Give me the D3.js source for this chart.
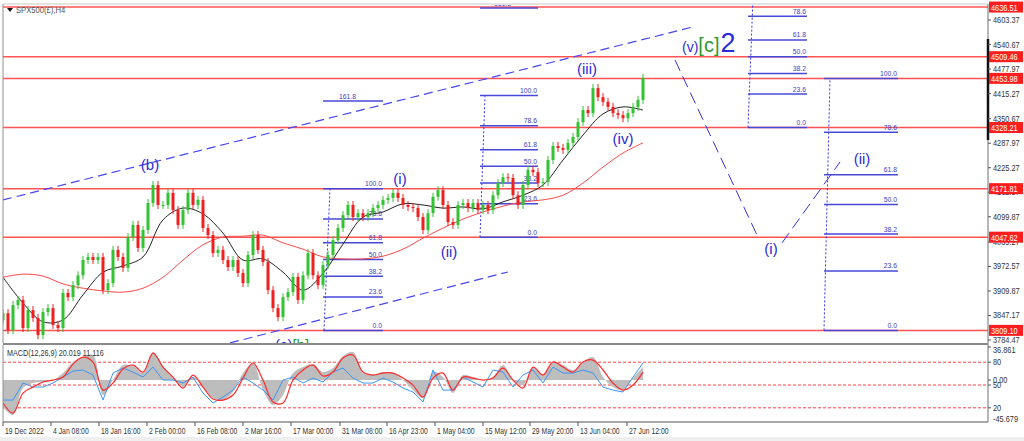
<!DOCTYPE html>
<html><head><meta charset="utf-8">
<script src="https://cdn.jsdelivr.net/npm/d3@7"></script>
<style>html,body{margin:0;padding:0;background:#fff;overflow:hidden}</style>
</head><body><svg id="c" width="1024" height="441"></svg>
<script>
// ---------------- DATA ----------------
const closes = [
3853,3810,3874,3887,3815,3861,3841,3797,3856,3866,
3823,3815,3905,3894,3925,3950,3989,3997,3989,3997,
3912,3930,4015,3997,3969,4048,4079,4020,4066,4135,
4181,4130,4130,4161,4117,4079,4117,4161,4130,4143,
4071,4053,4007,4015,3989,3971,3989,3956,3930,4002,
4053,4015,3984,3912,3866,3843,3894,3907,3946,3887,
3950,4007,3950,3925,3976,4002,4040,4071,4104,4130,
4099,4109,4099,4109,4122,4130,4143,4148,4161,4148,
4130,4125,4122,4099,4066,4109,4151,4168,4130,4086,
4079,4130,4135,4122,4135,4117,4130,4117,4155,4186,
4201,4199,4155,4130,4181,4220,4214,4186,4189,4245,
4281,4276,4271,4289,4304,4342,4373,4365,4429,4406,
4394,4381,4365,4360,4352,4365,4381,4399,4455];
const firstOpen = 3835;
const maStep = 4;
const maFast = [3945,3879,3831,3836,3900,3958,3974,3997,4092,4122,4107,4058,3989,3992,3958,3912,3955,4030,4099,4112,4133,4130,4122,4125,4120,4138,4155,4181,4245,4309,4363,4381,4373];
const maSlow = [3945,3953,3948,3928,3917,3910,3907,3917,3945,3989,4028,4048,4050,4053,4033,4017,3997,3992,3992,3999,4017,4045,4071,4094,4112,4127,4138,4143,4155,4186,4227,4263,4289];
const macdStep = 2;
const macdHist = [-30.1,-39.0,-8.9,-3.3,-2.2,0,7.8,20.1,25.6,27.9,-16.7,0,16.7,15.6,7.8,31.2,15.6,3.3,-7.8,3.3,-7.8,-20.1,-22.3,-13.4,7.8,19.0,-11.2,-27.9,-16.7,7.8,14.5,17.8,8.9,13.4,26.8,31.2,7.8,5.6,8.9,7.8,0,-11.2,-20.1,8.9,3.3,-14.5,5.6,3.3,0,3.3,16.7,0,-5.6,14.5,5.6,20.1,16.7,11.2,20.1,25.6,3.3,-7.8,-11.2,2.2,14.5];
const macdSignal = [-25.6,-36.8,-14.5,-7.8,-2.2,0,3.3,17.8,25.6,20.1,-11.2,-3.3,12.3,16.7,8.9,30.1,14.5,3.3,-8.9,5.6,-7.8,-21.2,-22.3,-16.7,2.2,19.0,0,-24.5,-25.6,0,11.2,16.7,4.5,8.9,24.5,27.9,8.9,5.6,7.8,7.8,2.2,-5.6,-19.0,2.2,7.8,-11.2,3.3,2.2,0,2.2,13.4,0,-8.9,14.5,5.6,20.1,14.5,8.9,20.1,22.3,11.2,-3.3,-11.2,-5.6,8.9];
const macdLine = [-22.3,-22.3,-3.3,-7.8,-7.8,-3.3,3.3,10.0,11.2,5.6,-22.3,7.8,13.4,8.9,3.3,14.5,0,0,-3.3,3.3,-14.5,-25.6,-19.0,-11.2,3.3,-3.3,-11.2,-22.3,0,3.3,-3.3,2.2,-2.2,8.9,13.4,2.2,-3.3,-3.3,2.2,-2.2,-8.9,-13.4,-24.5,11.2,-11.2,-11.2,3.3,-2.2,-7.8,11.2,8.9,-7.8,5.6,11.2,-3.3,14.5,7.8,7.8,11.2,7.8,-7.8,-11.2,-13.4,3.3,19.0];
const priceTicks = [4603.37,4540.67,4477.97,4415.27,4350.67,4287.97,4225.27,4162.57,4099.87,4035.27,3972.57,3909.87,3847.17,3784.47];
const levelPrices = [4636.51,4509.46,4453.98,4328.21,4171.81,4047.62,3809.10];
const dateLabels = ["19 Dec 2022","4 Jan 08:00","18 Jan 16:00","2 Feb 00:00","16 Feb 08:00","2 Mar 16:00","17 Mar 00:00","31 Mar 08:00","16 Apr 23:00","1 May 04:00","15 May 12:00","29 May 20:00","13 Jun 04:00","27 Jun 12:00"];
const dateTickIdx = [0,9.6,19.2,28.8,38.4,48,57.6,67.4,76.8,86.4,96,105.4,115,124.8];
const macdAxis = [["36.861",36.861],["0.00",0]];
const levelAxis = [80,50,20];
const fibs = [
  {a:64, b:76, vTop:65.4, vBot:64.2, p0:3809.10, p100:4171.81, ratios:[0,23.6,38.2,50,61.8,78.6,100,161.8]},
  {a:95.4, b:107, vTop:96.4, vBot:95.4, p0:4047.62, p100:4410, ratios:[0,23.6,38.2,50,61.8,78.6,100,161.8]},
  {a:149, b:160.8, vTop:150, vBot:149, p0:4328.21, p100:4690.7, ratios:[0,23.6,38.2,50,61.8,78.6,100]},
  {a:164.2, b:179, vTop:165.4, vBot:164.2, p0:3809.10, p100:4453.98, ratios:[0,23.6,38.2,50,61.8,78.6,100]}
];
const channelUpper = [[0,4143],[137.8,4585]];
const channelLower = [[45.4,3777],[101,3958.5]];
const projection = [[[134.4,4501],[150.8,4053]],[[155.8,4033],[167.4,4240]]];
const waveLabels = [
  {t:[["(b)","b"]], i:29.4, p:4235},
  {t:[["(i)","b"]], i:79.4, p:4199},
  {t:[["(ii)","b"]], i:89.2, p:4012},
  {t:[["(iii)","b"]], i:116.8, p:4481},
  {t:[["(iv)","b"]], i:124, p:4301},
  {t:[["(i)","b"]], i:153.6, p:4020},
  {t:[["(ii)","b"]], i:171.8, p:4250},
  {t:[["(c)","b"],["[b]","g"]], i:57.8, p:3775}
];

// ---------------- DRAW ----------------
const svg = d3.select('#c');
const W=1024,H=441, L=3, R=988, T=5, B=343, MT=345, MB=422;
const x = d3.scaleLinear().domain([0,128]).range([3,643]);
const y = d3.scaleLinear().domain([3784.47,4603.37]).range([340,20]);
const ym = d3.scaleLinear().domain([-45.679,36.861]).range([421,347]);
const yl = d3.scaleLinear().domain([0,100]).range([423,347]);
const FONT = "'Liberation Sans', Arial, sans-serif";
const BLUE = '#2b2bd8', GREEN = '#2f9a2f';

svg.append('rect').attr('width',W).attr('height',H).attr('fill','#fff');
svg.append('rect').attr('x',0).attr('y',437).attr('width',W).attr('height',4).attr('fill','#efefef');
const defs = svg.append('defs');
defs.append('clipPath').attr('id','cm').append('rect').attr('x',L).attr('y',T).attr('width',R-L).attr('height',B-T);
defs.append('clipPath').attr('id','cd').append('rect').attr('x',L).attr('y',MT).attr('width',R-L).attr('height',MB-MT);

function sText(g, tx, ty, s, size, fill, sx, anchor, weight){
  return g.append('text').attr('transform',`translate(${tx},${ty}) scale(${sx},1)`)
    .attr('font-family',FONT).attr('font-size',size).attr('fill',fill)
    .attr('text-anchor',anchor||'start').attr('font-weight',weight||'normal').text(s);
}

const gm = svg.append('g').attr('clip-path','url(#cm)');

// horizontal levels
gm.selectAll('line.lv').data(levelPrices).join('line')
  .attr('x1',L).attr('x2',R).attr('y1',d=>y(d)).attr('y2',d=>y(d))
  .attr('stroke','#ff5252').attr('stroke-width',1.5);

// fib tools
fibs.forEach(f=>{
  const lv = r => f.p0 + (f.p100-f.p0)*r/100;
  gm.append('line').attr('x1',x(f.vBot)).attr('y1',y(f.p0)).attr('x2',x(f.vTop)).attr('y2',y(f.p100>4603?4660:f.p100))
    .attr('stroke','#3434f0').attr('stroke-width',1).attr('stroke-dasharray','2,2');
  f.ratios.forEach(r=>{
    const yy = y(lv(r));
    gm.append('line').attr('x1',x(f.a)).attr('x2',x(f.b)).attr('y1',yy).attr('y2',yy)
      .attr('stroke','#4848d6').attr('stroke-width',1.5);
    const lx = r > 150 ? x(f.b) - 27 : x(f.b) - 1;
    sText(gm, lx, yy-2.5, r.toFixed(1), 8, '#4040c8', 0.85, 'end');
  });
});

// moving averages
const maLine = d3.line().x((d,i)=>x(i*maStep)).y(d=>y(d)).curve(d3.curveCatmullRom);
gm.append('path').attr('d',maLine(maSlow)).attr('fill','none').attr('stroke','#ff4a4a').attr('stroke-width',1);
gm.append('path').attr('d',maLine(maFast)).attr('fill','none').attr('stroke','#222').attr('stroke-width',1);

// candles
const candles = closes.map((c,i)=>({i, o: i? closes[i-1] : firstOpen, c}));
const cg = gm.append('g');
candles.forEach(d=>{
  const up = d.c >= d.o;
  const col = up ? '#33c233' : '#ee2020';
  const yt = y(Math.max(d.o,d.c)), yb = y(Math.min(d.o,d.c));
  cg.append('line').attr('x1',x(d.i)).attr('x2',x(d.i)).attr('y1',yt-4).attr('y2',yb+4)
    .attr('stroke',col).attr('stroke-width',1);
  cg.append('rect').attr('x',x(d.i)-1.5).attr('y',yt).attr('width',3).attr('height',Math.max(1,yb-yt))
    .attr('fill',col);
});

// channels and projections
[channelUpper, channelLower].forEach(s=>{
  gm.append('line').attr('x1',x(s[0][0])).attr('y1',y(s[0][1])).attr('x2',x(s[1][0])).attr('y2',y(s[1][1]))
    .attr('stroke','#4646f2').attr('stroke-width',1.2).attr('stroke-dasharray','9,5');
});
projection.forEach(s=>{
  gm.append('line').attr('x1',x(s[0][0])).attr('y1',y(s[0][1])).attr('x2',x(s[1][0])).attr('y2',y(s[1][1]))
    .attr('stroke','#3232e0').attr('stroke-width',1).attr('stroke-dasharray','12,6');
});

// wave labels
waveLabels.forEach(w=>{
  const t = gm.append('text').attr('x',x(w.i)).attr('y',y(w.p)).attr('text-anchor','middle')
    .attr('dominant-baseline','central').attr('font-family',FONT).attr('font-size',15);
  w.t.forEach(p=> t.append('tspan').attr('fill', p[1]==='g'?GREEN:BLUE).text(p[0]));
});
// (v)[c]2
{
  const t = gm.append('text').attr('x',x(135.8)).attr('y',y(4521)).attr('font-family',FONT);
  t.append('tspan').attr('font-size',14).attr('fill',BLUE).text('(v)');
  t.append('tspan').attr('font-size',20).attr('fill',GREEN).text('[c]');
  t.append('tspan').attr('font-size',27).attr('fill',BLUE).attr('dx',1).text('2');
}

// title
svg.append('path').attr('d','M7,8 L13,8 L10,12 Z').attr('fill','#111');
sText(svg, 16, 13, 'SPX500(£),H4', 9, '#555', 0.85);

// ---------------- MACD PANEL ----------------
const gd = svg.append('g').attr('clip-path','url(#cd)');
levelAxis.forEach(v=>{
  gd.append('line').attr('x1',L).attr('x2',R).attr('y1',yl(v)).attr('y2',yl(v))
    .attr('stroke','#ff4040').attr('stroke-width',1).attr('stroke-dasharray','3,2');
});
gd.append('path').datum(macdHist)
  .attr('d', d3.area().x((d,i)=>x(i*macdStep)).y0(ym(0)).y1(d=>ym(d)).curve(d3.curveCatmullRom))
  .attr('fill','#bdbdbd');
gd.append('path').datum(macdLine)
  .attr('d', d3.line().x((d,i)=>x(i*macdStep)).y(d=>ym(d)).curve(d3.curveLinear))
  .attr('fill','none').attr('stroke','#3b96f5').attr('stroke-width',1);
gd.append('path').datum(macdSignal)
  .attr('d', d3.line().x((d,i)=>x(i*macdStep)).y(d=>ym(d)).curve(d3.curveCatmullRom))
  .attr('fill','none').attr('stroke','#ff2a2a').attr('stroke-width',1.2);
sText(svg, 7, 356, 'MACD(12,26,9) 20.019 11.116', 9, '#333', 0.8);

// ---------------- FRAMES ----------------
svg.append('line').attr('x1',L).attr('x2',R).attr('y1',T-1).attr('y2',T-1).attr('stroke','#c8c8c8');
svg.append('line').attr('x1',L).attr('x2',L).attr('y1',T-1).attr('y2',B).attr('stroke','#909090');
svg.append('line').attr('x1',R).attr('x2',R).attr('y1',T-1).attr('y2',MB).attr('stroke','#707070');
svg.append('rect').attr('x',L).attr('y',B).attr('width',R-L).attr('height',2).attr('fill','#8a8a8a');
svg.append('line').attr('x1',L).attr('x2',L).attr('y1',MT).attr('y2',MB).attr('stroke','#909090');
svg.append('line').attr('x1',L).attr('x2',R).attr('y1',MB).attr('y2',MB).attr('stroke','#8a8a8a').attr('stroke-width',1.5);
svg.append('line').attr('x1',R).attr('x2',R).attr('y1',39).attr('y2',140).attr('stroke','#111').attr('stroke-width',2.5);

// right price axis
priceTicks.forEach(p=>{
  svg.append('line').attr('x1',R).attr('x2',R+3).attr('y1',y(p)).attr('y2',y(p)).attr('stroke','#555');
  sText(svg, R+5, y(p)+3, p.toFixed(2), 9, '#333', 0.82);
});
levelPrices.forEach(p=>{
  svg.append('rect').attr('x',R+1).attr('y',y(p)-5.5).attr('width',34).attr('height',11).attr('fill','#ff1e1e');
  sText(svg, R+3, y(p)+3.5, p.toFixed(2), 9, '#fff', 0.82);
});
// MACD axis
macdAxis.forEach(a=>{
  svg.append('line').attr('x1',R).attr('x2',R+3).attr('y1',ym(a[1])).attr('y2',ym(a[1])).attr('stroke','#555');
  sText(svg, R+5, ym(a[1])+(a[1]>30?6:3), a[0], 9, '#333', 0.82);
});
levelAxis.forEach(v=>{
  svg.append('line').attr('x1',R).attr('x2',R+3).attr('y1',yl(v)).attr('y2',yl(v)).attr('stroke','#555');
  sText(svg, R+5, yl(v)+3, String(v), 9, '#333', 0.82);
});
sText(svg, R+5, ym(-45.679)+1, '-45.679', 9, '#333', 0.82);

// date axis
dateLabels.forEach((s,k)=>{
  const xx = x(dateTickIdx[k]);
  svg.append('line').attr('x1',xx).attr('x2',xx).attr('y1',MB).attr('y2',MB+4).attr('stroke','#555');
  sText(svg, xx+2, 434, s, 9, '#333', 0.76);
});
</script></body></html>
